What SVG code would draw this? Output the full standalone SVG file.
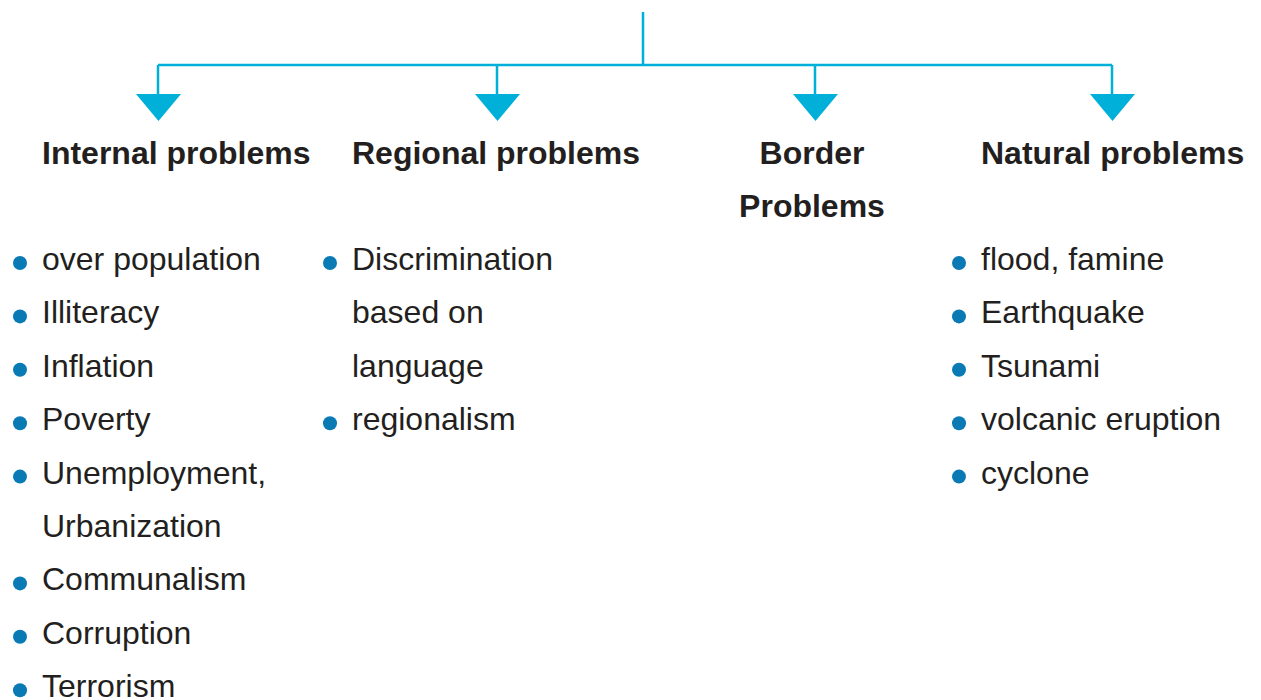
<svg xmlns="http://www.w3.org/2000/svg" width="1261" height="700" viewBox="0 0 1261 700">
<style>
.ln{stroke:#00b0d8;stroke-width:2.5;fill:none}
.ar{fill:#00b0d8}
.h{font-family:"Liberation Sans",Arial,sans-serif;font-weight:bold;font-size:32px;fill:#231f20}
.t{font-family:"Liberation Sans",Arial,sans-serif;font-size:32px;fill:#231f20}
.b{fill:#0a7ab5}
</style>
<rect width="1261" height="700" fill="#ffffff"/>
<g id="connectors">
<path class="ln" d="M643 12V65M158 65H1112M158 65V96M497 65V96M815 65V96M1112 65V96"/>
<path class="ar" d="M136 94H181L158.5 121Z"/>
<path class="ar" d="M475 94H520L497.5 121Z"/>
<path class="ar" d="M793 94H838L815.5 121Z"/>
<path class="ar" d="M1090 94H1135L1112.5 121Z"/>
</g>
<g id="internal">
<text class="h" x="42" y="164">Internal problems</text>
<circle class="b" cx="20" cy="263" r="7"/><text class="t" x="42" y="270">over population</text>
<circle class="b" cx="20" cy="316.4" r="7"/><text class="t" x="42" y="323.4">Illiteracy</text>
<circle class="b" cx="20" cy="369.8" r="7"/><text class="t" x="42" y="376.8">Inflation</text>
<circle class="b" cx="20" cy="423.2" r="7"/><text class="t" x="42" y="430.2">Poverty</text>
<circle class="b" cx="20" cy="476.6" r="7"/><text class="t" x="42" y="483.6">Unemployment,</text>
<text class="t" x="42" y="537">Urbanization</text>
<circle class="b" cx="20" cy="583.4" r="7"/><text class="t" x="42" y="590.4">Communalism</text>
<circle class="b" cx="20" cy="636.8" r="7"/><text class="t" x="42" y="643.8">Corruption</text>
<circle class="b" cx="20" cy="690.2" r="7"/><text class="t" x="42" y="697.2">Terrorism</text>
</g>
<g id="regional">
<text class="h" x="352" y="164">Regional problems</text>
<circle class="b" cx="330" cy="263" r="7"/><text class="t" x="352" y="270">Discrimination</text>
<text class="t" x="352" y="323.4">based on</text>
<text class="t" x="352" y="376.8">language</text>
<circle class="b" cx="330" cy="423.2" r="7"/><text class="t" x="352" y="430.2">regionalism</text>
</g>
<g id="border">
<text class="h" x="812" y="164" text-anchor="middle">Border</text>
<text class="h" x="812" y="217" text-anchor="middle">Problems</text>
</g>
<g id="natural">
<text class="h" x="981" y="164">Natural problems</text>
<circle class="b" cx="959" cy="263" r="7"/><text class="t" x="981" y="270">flood, famine</text>
<circle class="b" cx="959" cy="316.4" r="7"/><text class="t" x="981" y="323.4">Earthquake</text>
<circle class="b" cx="959" cy="369.8" r="7"/><text class="t" x="981" y="376.8">Tsunami</text>
<circle class="b" cx="959" cy="423.2" r="7"/><text class="t" x="981" y="430.2">volcanic eruption</text>
<circle class="b" cx="959" cy="476.6" r="7"/><text class="t" x="981" y="483.6">cyclone</text>
</g>
</svg>
